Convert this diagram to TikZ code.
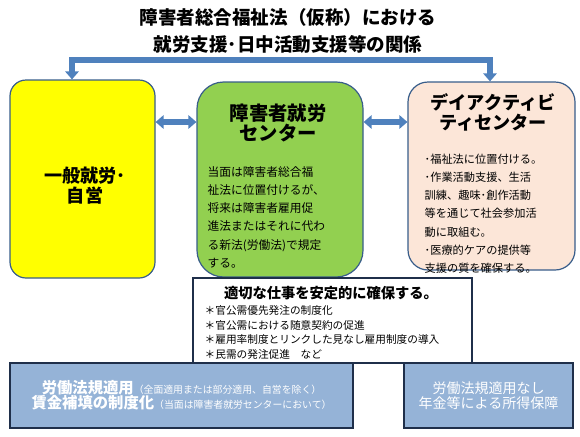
\documentclass[tikz,border=0pt]{standalone}
\usepackage{fontspec}
\setmainfont{Noto Sans CJK JP}
\usetikzlibrary{arrows.meta, positioning}
\definecolor{ArrowBlue}{HTML}{4F81BD}
\definecolor{EdgeBlue}{HTML}{385D8A}
\definecolor{NavyLine}{HTML}{1F2F4A}
\definecolor{SunYellow}{HTML}{FFFF00}
\definecolor{LeafGreen}{HTML}{92D050}
\definecolor{SoftPeach}{HTML}{FCE6D8}
\definecolor{SteelBlue}{HTML}{95B3D7}
\tikzset{
  mainbox/.style={draw=EdgeBlue, line width=0.9pt, inner sep=0pt},
  yellowbox/.style={mainbox, fill=SunYellow, rounded corners=12pt, minimum width=108.75pt, minimum height=148.5pt},
  greenbox/.style={mainbox, fill=LeafGreen, rounded corners=20pt, minimum width=124.5pt, minimum height=146.25pt},
  peachbox/.style={mainbox, fill=SoftPeach, rounded corners=15pt, minimum width=125.25pt, minimum height=141pt},
  whitebox/.style={draw=NavyLine, line width=1pt, fill=white, inner sep=0pt, minimum width=209.25pt, minimum height=63.75pt},
  lawbox/.style={draw=NavyLine, line width=1pt, fill=SteelBlue, text=white, align=center, inner sep=0pt, minimum height=48.75pt},
  headtext/.style={font=\bfseries\fs{13.6}{15}, align=center},
  bodytext/.style={font=\fs{8.8}{13.6}, align=left, anchor=north west},
  blockarrow/.style={{Triangle[length=6pt,width=10pt]}-{Triangle[length=6pt,width=10pt]}, line width=4.5pt, draw=ArrowBlue, line join=miter}
}
\newcommand{\fs}[2]{\fontsize{#1}{#2}\selectfont}

\begin{document}
\begin{tikzpicture}[x=0.75pt, y=-0.75pt]
\useasboundingbox (0,0) rectangle (580,436);
\node[font=\bfseries\fs{13.9}{20}, align=center] (title) at (288,31) {障害者総合福祉法（仮称）における\\就労支援･日中活動支援等の関係};
% three main boxes
\node[yellowbox] (work) at (82.5,179) {};
\node[headtext] (worktext) at (85,186) {一般就労･\\自営};
\node[greenbox] (center) at (280,179.5) {};
\node[headtext, font=\bfseries\fs{14.5}{15.5}] (centertitle) at (278,123) {障害者就労\\センター};
\node[bodytext] (centerbody) at (203,162) {当面は障害者総合福\\祉法に位置付けるが、\\将来は障害者雇用促\\進法またはそれに代わ\\る新法(労働法)で規定\\する。};
\node[peachbox] (day) at (491.5,176) {};
\node[headtext] (daytitle) at (493,112) {デイアクティビ\\ティセンター};
\node[bodytext, font=\fs{8.4}{13.7}] (daybody) at (420,149) {･福祉法に位置付ける。\\･作業活動支援、生活\\訓練、趣味･創作活動\\等を通じて社会参加活\\動に取組む。\\･医療的ケアの提供等\\支援の質を確保する。};
% jobs box and the two law boxes
\node[whitebox] (jobs) at (332.5,320.5) {};
\node[font=\bfseries\fs{10.7}{12}] (jobstitle) at (331,293) {適切な仕事を安定的に確保する。};
\node[bodytext, font=\fs{8}{10.9}] (jobsbody) at (200,301) {＊官公需優先発注の制度化\\＊官公需における随意契約の促進\\＊雇用率制度とリンクした見なし雇用制度の導入\\＊民需の発注促進\quad など};
\node[lawbox, minimum width=257.25pt, font=\fs{11.5}{11.5}] (lawleft) at (181.5,395.5) {{\bfseries 労働法規適用}{\fs{7.4}{11.5}（全面適用または部分適用、自営を除く）}\\{\bfseries 賃金補填の制度化}{\fs{7.4}{11.5}（当面は障害者就労センターにおいて）}};
\node[lawbox, minimum width=126.75pt, font=\fs{10.5}{11.5}] (lawright) at (488.5,395.5) {労働法規適用なし\\年金等による所得保障};
% connectors
\coordinate (barL) at (72,60);
\coordinate (barR) at (490,60);
\coordinate (midrow) at (0,122);
\draw[blockarrow] (barL |- work.north) -- (barL) -- (barR) -- (barR |- day.north);
\draw[blockarrow] (work.east |- midrow) -- (center.west |- midrow);
\draw[blockarrow] (center.east |- midrow) -- (day.west |- midrow);
\end{tikzpicture}
\end{document}
